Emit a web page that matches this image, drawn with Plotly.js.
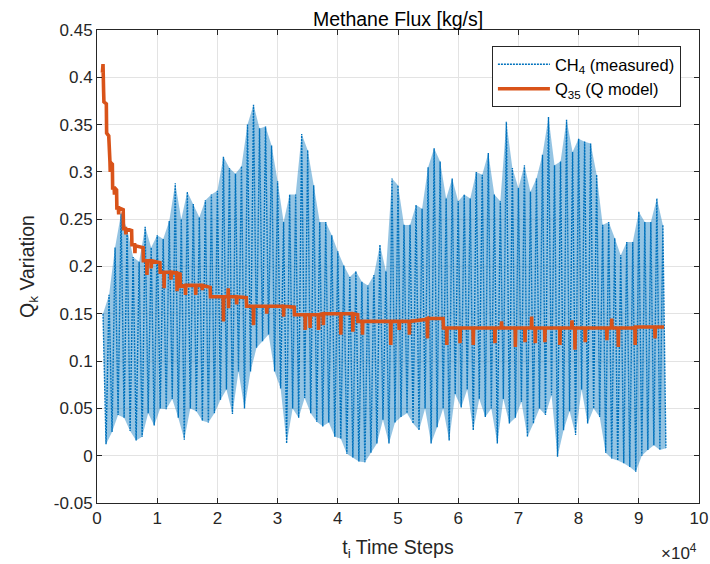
<!DOCTYPE html>
<html>
<head>
<meta charset="utf-8">
<script src="https://cdn.plot.ly/plotly-3.0.1.min.js"></script>
<style>html,body{margin:0;padding:0;background:#fff;}#chart{width:710px;height:564px;}</style>
</head>
<body>
<div id="chart"></div>
<script>
// Measured CH4 flux: upper and lower excursions read every 1000 time steps (k = 1..94)
const chStepStart = 1000;
const chStepSize = 1000;
const chTop = [0.15,0.17,0.22,0.256,0.24,0.21,0.205,0.242,0.22,0.233,
  0.229,0.248,0.288,0.25,0.279,0.266,0.252,0.27,0.276,0.28,
  0.316,0.304,0.298,0.306,0.35,0.371,0.346,0.348,0.328,0.29,
  0.247,0.276,0.276,0.34,0.323,0.286,0.247,0.247,0.233,0.216,
  0.201,0.189,0.195,0.184,0.18,0.191,0.223,0.195,0.293,0.286,
  0.244,0.244,0.265,0.261,0.305,0.325,0.311,0.272,0.293,0.269,
  0.276,0.272,0.3,0.297,0.32,0.276,0.269,0.353,0.304,0.283,
  0.307,0.279,0.293,0.318,0.358,0.307,0.311,0.355,0.321,0.335,
  0.332,0.33,0.297,0.244,0.247,0.23,0.212,0.226,0.226,0.258,
  0.247,0.247,0.272,0.244];
const chBottom = [0.012,0.025,0.043,0.04,0.026,0.016,0.02,0.045,0.032,0.05,
  0.049,0.06,0.04,0.017,0.05,0.047,0.037,0.035,0.045,0.059,
  0.07,0.044,0.089,0.05,0.089,0.114,0.121,0.128,0.089,0.071,
  0.013,0.05,0.04,0.061,0.045,0.036,0.031,0.035,0.02,0.018,
  0.002,-0.002,-0.006,-0.007,0.003,0.013,0.038,0.013,0.035,0.041,
  0.045,0.034,0.027,0.05,0.013,0.03,0.05,0.016,0.065,0.051,
  0.07,0.027,0.06,0.041,0.05,0.013,0.06,0.034,0.04,0.057,
  0.02,0.034,0.05,0.043,0.064,-0.001,0.027,0.047,0.022,0.07,
  0.034,0.05,0.041,0.003,-0.003,-0.005,-0.008,-0.012,-0.017,0.0,
  0.006,0.011,0.006,0.008];

// Q35 model curve (time step, value)
const qSteps = [900,1000,1100,1150,1550,1600,1950,2000,2150,2200,2250,2550,2600,2850,2900,2950,3250,3300,3550,3600,
  3650,4350,4400,4750,4800,4850,5750,5800,6250,6300,6350,7650,7700,8250,8300,8350,8950,9000,9050,10450,
  10500,11100,11150,11200,12250,12300,12350,13250,13300,13350,13800,13850,14650,14700,14750,16350,16400,16450,17450,17500,
  17550,18800,18850,20950,21000,21050,21750,21800,21850,21900,23150,23200,23250,24800,24850,25950,26000,26050,28150,28200,
  28250,30950,31000,31050,32750,32800,34550,34600,34650,35350,35400,35450,36750,36800,36850,37550,37600,37650,40450,40500,
  40550,42450,42500,42550,43300,43350,44050,44100,44150,48750,48800,48850,50150,50200,50250,51850,51900,51950,54500,54850,
  54900,54950,57500,57550,58050,58100,58150,60250,60300,60350,62450,62500,62550,66050,66100,66150,67150,67200,67250,69450,
  69500,69550,71050,71100,71150,72150,72200,72250,72750,72800,72850,74350,74400,74450,76850,76900,76950,78850,78900,78950,
  79350,79400,79450,81050,81100,81150,84650,84700,84750,85450,85500,85550,86550,86600,86650,89350,89400,89450,92650,92700,
  92750,94200];
const qValues = [0.405,0.414,0.385,0.374,0.372,0.341,0.338,0.311,0.311,0.300,0.310,0.308,0.283,0.283,0.276,0.283,0.281,0.262,0.262,0.255,
  0.262,0.260,0.240,0.240,0.234,0.240,0.238,0.223,0.223,0.214,0.222,0.220,0.206,0.206,0.191,0.206,0.206,0.198,0.206,0.204,
  0.194,0.194,0.177,0.194,0.194,0.186,0.194,0.193,0.174,0.193,0.192,0.179,0.180,0.170,0.180,0.180,0.170,0.180,0.180,0.175,
  0.180,0.178,0.168,0.168,0.142,0.168,0.168,0.177,0.156,0.168,0.168,0.160,0.168,0.167,0.158,0.158,0.138,0.158,0.158,0.150,
  0.158,0.158,0.147,0.158,0.157,0.149,0.149,0.133,0.149,0.149,0.135,0.149,0.149,0.133,0.149,0.150,0.138,0.150,0.150,0.128,
  0.150,0.150,0.131,0.150,0.149,0.142,0.142,0.128,0.142,0.142,0.117,0.142,0.142,0.133,0.142,0.142,0.128,0.142,0.144,0.145,
  0.124,0.145,0.145,0.135,0.135,0.117,0.135,0.135,0.119,0.135,0.135,0.117,0.135,0.135,0.119,0.135,0.135,0.142,0.135,0.135,
  0.115,0.135,0.135,0.120,0.135,0.135,0.147,0.135,0.135,0.119,0.135,0.135,0.120,0.135,0.135,0.117,0.135,0.135,0.143,0.135,
  0.135,0.112,0.135,0.135,0.120,0.135,0.135,0.122,0.135,0.135,0.145,0.135,0.135,0.115,0.135,0.135,0.117,0.136,0.136,0.124,
  0.136,0.136];

const xTickVals = [0,10000,20000,30000,40000,50000,60000,70000,80000,90000,100000];
const xTickText = ['0','1','2','3','4','5','6','7','8','9','10'];
const yTickVals = [-0.05,0,0.05,0.1,0.15,0.2,0.25,0.3,0.35,0.4,0.45];
const yTickText = ['-0.05','0','0.05','0.1','0.15','0.2','0.25','0.3','0.35','0.4','0.45'];

// zig-zag between read upper and lower excursions
const topX = [], botX = [], chX = [], chY = [];
for (let i = 0; i < chTop.length; i++) {
  const s = chStepStart + i * chStepSize;
  topX.push(s); botX.push(s + chStepSize / 2);
  chX.push(s); chY.push(chTop[i]);
  chX.push(s + chStepSize / 2); chY.push(chBottom[i]);
}

const font = 'Liberation Sans, Arial, Helvetica, sans-serif';
const axisCol = '#262626';
const blue = '#0072BD';

const traces = [
  {x: topX, y: chTop, type: 'scatter', mode: 'lines', line: {width: 0, color: blue},
   showlegend: false, hoverinfo: 'skip'},
  {x: botX, y: chBottom, type: 'scatter', mode: 'lines', line: {width: 0, color: blue},
   fill: 'tonexty', fillcolor: 'rgba(0,114,189,0.42)', showlegend: false, hoverinfo: 'skip'},
  {x: chX, y: chY, type: 'scatter', mode: 'lines', name: 'CH<sub>4</sub> (measured)',
   line: {color: blue, width: 1.4, dash: '2px,1px'}},
  {x: qSteps, y: qValues, type: 'scatter', mode: 'lines', name: 'Q<sub>35</sub> (Q model)',
   line: {color: '#D95319', width: 3.6}}
];

const axBase = {
  showline: true, linecolor: axisCol, linewidth: 1, mirror: 'ticks',
  ticks: 'inside', ticklen: 5, tickcolor: axisCol, tickwidth: 1,
  showgrid: true, gridcolor: '#e3e3e3', gridwidth: 1, zeroline: false,
  tickfont: {family: font, size: 17, color: axisCol}
};

const layout = {
  width: 710, height: 564,
  margin: {l: 97, r: 11, t: 30, b: 61, pad: 0},
  paper_bgcolor: '#ffffff', plot_bgcolor: '#ffffff',
  font: {family: font, color: axisCol},
  title: {text: 'Methane Flux [kg/s]', font: {family: font, size: 19.5, color: '#000'},
          x: 0.5, xref: 'paper', xanchor: 'center', y: 1 - 19/564, yref: 'container', yanchor: 'middle'},
  xaxis: Object.assign({}, axBase, {
    range: [0, 100000], tickmode: 'array', tickvals: xTickVals, ticktext: xTickText,
    title: {text: 't<sub>i</sub> Time Steps', font: {family: font, size: 19.5, color: axisCol}, standoff: 12}
  }),
  yaxis: Object.assign({}, axBase, {
    range: [-0.05, 0.45], tickmode: 'array', tickvals: yTickVals, ticktext: yTickText,
    title: {text: 'Q<sub>k</sub> Variation', font: {family: font, size: 19.5, color: axisCol}, standoff: 14}
  }),
  showlegend: true,
  legend: {x: 0.656, y: 0.966, xanchor: 'left', yanchor: 'top', bgcolor: '#ffffff',
           bordercolor: axisCol, borderwidth: 1, font: {family: font, size: 16.5, color: '#000'},
           itemwidth: 52, tracegroupgap: 0, traceorder: 'normal'},
  annotations: [{text: '×10<sup>4</sup>', xref: 'paper', yref: 'paper', x: 1, y: -0.103,
                 xanchor: 'right', yanchor: 'middle', showarrow: false,
                 font: {family: font, size: 17, color: axisCol}}]
};

Plotly.newPlot('chart', traces, layout, {displayModeBar: false, staticPlot: true});
</script>
</body>
</html>
